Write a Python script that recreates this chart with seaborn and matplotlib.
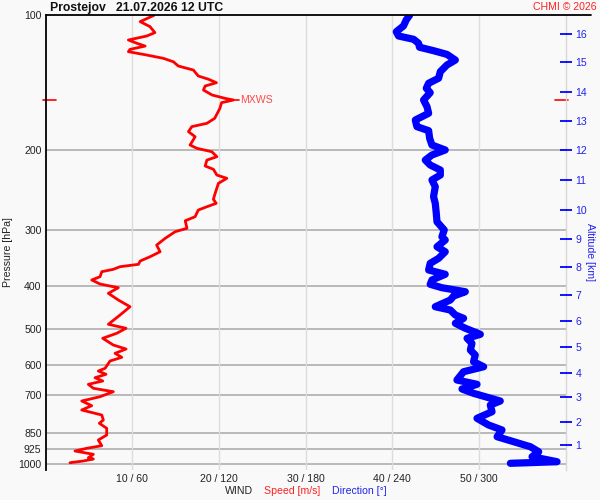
import numpy as np
import pandas as pd
import matplotlib.pyplot as plt
import seaborn as sns
from matplotlib.lines import Line2D

# wind speed profile (pressure hPa, speed m/s)
speed_p = [100, 103.3, 106.0, 109.3, 111.2, 113.5, 115.4, 117.1, 119.1, 120.5, 122.6, 124.7, 126.9,
           129.7, 132.4, 136.5, 138.8, 141.3, 143.7, 146.7, 150.5, 153.1, 154.4, 156.5, 161.1, 169.6,
           174.0, 177.0, 181.6, 186.4, 194.5, 197.8, 201.3, 206.5, 210.1, 216.6, 220.3, 226.9, 230.7,
           236.7, 249.2, 256.9, 262.3, 266.9, 271.5, 280.9, 286.8, 298.1, 303.4, 313.9, 324.9, 336.2,
           344.9, 352.6, 358.6, 363.0, 367.9, 372.4, 382.1, 388.6, 396.7, 404.3, 416.1, 430.6, 445.7,
           465.0, 487.7, 497.8, 510.7, 524.0, 542.4, 553.6, 566.0, 577.7, 588.8, 611.2, 619.7, 630.3,
           641.4, 652.3, 663.5, 677.2, 689.1, 707.0, 722.8, 740.4, 756.9, 776.6, 796.8, 810.3, 831.4,
           860.5, 882.8, 909.0, 921.2, 934.1, 950.0, 966.7, 973.2, 983.2, 991.8]
speed_ms = [12.5, 10.9, 12.04, 12.6, 11.66, 9.54, 10.5, 11.47, 9.73, 9.54, 11.66, 13.58, 14.73,
            15.3, 17.04, 17.6, 18.78, 19.7, 18.4, 18.2, 19.2, 20.7, 21.66, 20.3, 20.1, 19.5,
            18.6, 16.86, 16.47, 17.24, 16.66, 17.44, 19.17, 19.75, 18.6, 18.4, 19.35, 19.75, 20.9,
            19.93, 19.55, 19.35, 19.67, 18.6, 17.6, 17.24, 16.1, 16.3, 14.93, 13.78, 12.8, 13.2,
            12.04, 10.9, 10.7, 8.58, 7.8, 6.47, 6.27, 5.31, 6.27, 8.38, 7.23, 8.38, 9.73,
            8.58, 7.23, 9.27, 8.2, 6.58, 7.8, 9.27, 8.0, 8.78, 7.42, 6.85, 6.07, 6.96,
            5.69, 6.58, 4.92, 5.5, 7.8, 6.27, 4.16, 5.31, 4.16, 6.47, 6.65, 6.19, 7.04,
            7.04, 6.07, 6.47, 4.73, 3.38, 5.5, 4.92, 5.5, 4.34, 2.8]

# wind direction profile (pressure hPa, direction deg)
dir_p = [100, 102.4, 105.6, 108.8, 111.2, 113.1, 115.4, 117.8, 119.9, 122.2, 125.8, 129.0, 133.5,
         138.1, 141.7, 145.4, 148.7, 154.4, 159.8, 165.3, 171.1, 177.0, 180.7, 187.9, 194.5, 199.5,
         204.7, 210.1, 215.5, 221.1, 226.9, 232.7, 240.8, 253.5, 262.3, 276.1, 288.3, 300.7, 311.3,
         316.6, 327.7, 336.2, 347.8, 356.8, 369.2, 377.4, 388.6, 397.3, 404.3, 412.7, 421.9, 430.6,
         445.7, 453.3, 465.0, 473.0, 485.2, 497.8, 513.4, 524.0, 537.7, 556.6, 571.0, 591.0, 606.3,
         622.0, 649.0, 663.5, 679.6, 694.9, 722.8, 737.8, 763.6, 789.9, 817.4, 838.6, 868.1, 890.6,
         913.7, 937.5, 961.8, 986.8, 994.9]
dir_deg = [251.9, 249.6, 247.7, 242.7, 244.3, 254.7, 258.1, 258.8, 268.5, 277.8, 283.6, 277.8, 273.2,
           272.0, 265.1, 263.5, 266.2, 261.6, 264.0, 265.1, 255.9, 257.0, 265.1, 265.8, 267.4, 276.6,
           267.4, 262.8, 266.2, 273.2, 273.2, 267.4, 269.7, 268.5, 269.7, 270.4, 270.9, 275.9, 274.3,
           276.6, 270.9, 276.6, 272.0, 266.2, 265.1, 276.6, 267.4, 266.2, 274.3, 290.5, 282.4, 280.1,
           269.7, 280.1, 283.6, 289.3, 283.6, 290.5, 300.9, 291.7, 295.1, 294.0, 297.4, 296.2, 303.2,
           289.3, 284.7, 298.6, 288.2, 296.2, 314.7, 307.8, 309.0, 298.6, 306.6, 315.9, 312.5, 324.0,
           335.5, 341.3, 336.7, 354.0, 321.7]

p_ticks = [100, 200, 300, 400, 500, 600, 700, 850, 925, 1000]
alt_km = [1, 2, 3, 4, 5, 6, 7, 8, 9, 10, 11, 12, 13, 14, 15, 16]
alt_p = [907, 806, 709, 626, 549, 480, 420, 364, 315, 272, 233, 200, 172, 148, 127, 110]
x_ticks = [10, 20, 30, 40, 50]
x_labels = ['10 / 60', '20 / 120', '30 / 180', '40 / 240', '50 / 300']

sns.set_theme(style='white')
plt.rcParams['font.family'] = ['Liberation Sans', 'DejaVu Sans']

bg = '#f9f9f9'
fig = plt.figure(figsize=(6, 5), dpi=100, facecolor=bg)
ax = fig.add_axes([45.7 / 600, 30 / 500, 520 / 600, 454.7 / 500])
ax.set_facecolor(bg)
ax.set_yscale('log')
ax.set_ylim(1029.6, 100)
ax.set_xlim(0, 60)

# speed
df_s = pd.DataFrame({'p': speed_p, 'speed': speed_ms})
sns.lineplot(data=df_s, x='speed', y='p', sort=False, estimator=None, color='#ff0000',
             lw=2.0, ax=ax, zorder=4)

# direction on a twin x axis (0..360 deg)
ax2 = ax.twiny()
ax2.set_xlim(0, 360)
df_d = pd.DataFrame({'p': dir_p, 'dir': dir_deg})
sns.lineplot(data=df_d, x='dir', y='p', sort=False, estimator=None, color='#0000ff',
             lw=5.2, ax=ax2, zorder=4, solid_capstyle='round', solid_joinstyle='round')
ax2.set_xlim(0, 360)
ax2.set_xticks([])
ax2.set_xlabel('')
for s in ax2.spines.values():
    s.set_visible(False)

# altitude axis
ax3 = ax.twinx()
ax3.set_yscale('log')
ax3.set_ylim(1029.6, 100)
ax3.yaxis.set_major_locator(plt.FixedLocator(alt_p))
ax3.yaxis.set_minor_locator(plt.NullLocator())
ax3.set_yticklabels([str(a) for a in alt_km])
ax3.tick_params(axis='y', direction='inout', length=8, width=1.3, color='#0000ff',
                labelcolor='#2222ee', labelsize=7.6, pad=3)
for s in ax3.spines.values():
    s.set_visible(False)

# pressure axis ticks (after twins)
ax.set_ylim(1029.6, 100)
ax.set_xlim(0, 60)
ax.yaxis.set_major_locator(plt.FixedLocator(p_ticks))
ax.yaxis.set_minor_locator(plt.NullLocator())
ax.yaxis.set_major_formatter(plt.FixedFormatter([str(p) for p in p_ticks]))
ax.set_xticks(x_ticks)
ax.set_xticklabels(x_labels)
ax.tick_params(axis='both', length=0, labelsize=7.6, colors='#222222')
ax.tick_params(axis='y', pad=3)
ax.tick_params(axis='x', pad=3)
ax.set_xlabel('')
ax.set_ylabel('')

for p in p_ticks[1:]:
    ax.axhline(p, color='#a8a8a8', lw=1.1, zorder=1)
for x in x_ticks:
    ax.axvline(x, color='#dcdcdc', lw=1.0, zorder=1)

ax.spines['left'].set_color('black')
ax.spines['left'].set_linewidth(1.3)
ax.spines['top'].set_visible(False)
ax.spines['bottom'].set_visible(False)
ax.spines['right'].set_color('#d8d8d8')
ax.spines['right'].set_linewidth(1.0)

# max wind marker
i_max = int(np.argmax(speed_ms))
p_max = speed_p[i_max]
ax.plot([speed_ms[i_max], speed_ms[i_max] + 0.7], [p_max, p_max], color='#ff0000', lw=1.2, zorder=5)
ax.text(speed_ms[i_max] + 0.75, p_max, 'MXWS', color='#ff4a4a', fontsize=7.6, va='center', ha='left')
ytr = ax.get_yaxis_transform()
ax.plot([-0.005, 0.02], [p_max, p_max], color='#ff0000', lw=1.2, transform=ytr, clip_on=False)
ax.plot([0.979, 1.004], [p_max, p_max], color='#ff0000', lw=1.2, transform=ytr, clip_on=False)

# frame top line
fig.add_artist(Line2D([45.7 / 600, 591 / 600], [1 - 15.3 / 500, 1 - 15.3 / 500], color='black', lw=1.3))

fig.text(50 / 600, 1 - 7.5 / 500, 'Prostejov   21.07.2026 12 UTC', fontsize=8.8, fontweight='bold',
         ha='left', va='center', color='#111111')
fig.text(597 / 600, 1 - 7.5 / 500, 'CHMI \u00a9 2026', fontsize=7.6, ha='right', va='center', color='#ff2020')
fig.text(8 / 600, 1 - 252 / 500, 'Pressure [hPa]', fontsize=7.6, rotation=90, ha='center', va='center',
         color='#222222')
fig.text(590 / 600, 1 - 252 / 500, 'Altitude [km]', fontsize=7.6, rotation=270, ha='center', va='center',
         color='#2222ee')

fig.text(225 / 600, 1 - 491 / 500, 'WIND', fontsize=7.6, ha='left', va='center', color='#222222')
fig.text(264 / 600, 1 - 491 / 500, 'Speed [m/s]', fontsize=7.6, ha='left', va='center', color='#ff2020')
fig.text(332 / 600, 1 - 491 / 500, 'Direction [\u00b0]', fontsize=7.6, ha='left', va='center', color='#2222ee')

fig.savefig('out.png', dpi=100, facecolor=bg)
